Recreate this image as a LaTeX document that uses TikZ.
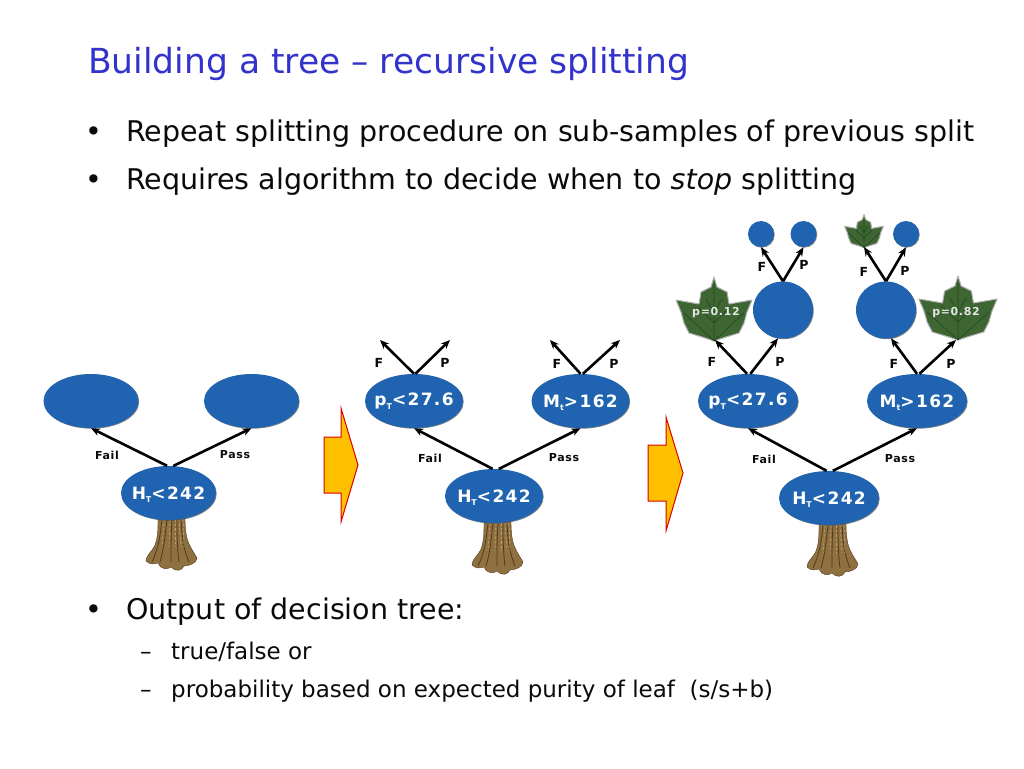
\documentclass[tikz,border=0pt]{standalone}
\usepackage{fontspec}
\usetikzlibrary{arrows.meta,shapes.geometric,shadows}
\setmainfont{DejaVu Sans}
\newfontfamily\lblfont[LetterSpace=8]{DejaVu Sans Bold}
\newfontfamily\smlfont[LetterSpace=6]{DejaVu Sans Bold}
\definecolor{titleblue}{HTML}{3333CC}
\definecolor{nodeblue}{HTML}{2063B0}
\definecolor{bodytext}{HTML}{0A0A0A}
\definecolor{leafgreen}{HTML}{3E6633}
\definecolor{leafdark}{HTML}{27491F}
\definecolor{barkmid}{HTML}{8F7040}
\definecolor{barkdark}{HTML}{54391C}
\definecolor{barklight}{HTML}{BBA274}
\definecolor{arrowyellow}{HTML}{FFC000}
\newcommand{\lowsub}[1]{{\raisebox{-3.5pt}[0pt][0pt]{\fontsize{8}{8}\selectfont #1}}}
\newcommand{\nar}[1]{\makebox[0pt][c]{#1}}
\newcommand{\trunkshape}[2]{%
  \begin{scope}[shift={(#1,#2)}]
    \fill[barkmid,draw=barkdark,line width=.4pt] (-14,0) .. controls (-14,12) and (-14,20) .. (-17,28)
      .. controls (-20,35) and (-26,38) .. (-26,44) .. controls (-22,48) and (-18,47) .. (-14,46)
      .. controls (-10,54) and (-4,52) .. (-1,50) .. controls (3,55) and (10,54) .. (12,49)
      .. controls (17,49) and (25,46) .. (25,41)
      .. controls (21,34) and (15,26) .. (14,16) .. controls (13,10) and (13,4) .. (13,0) -- cycle;
    \foreach \a/\b/\c in {-10/-12/-20,-5/-7/-12,0/-1/-1,5/5/7,9/10/17}{
      \draw[barkdark,line width=.8pt] (\a,3) .. controls (\b,16) and (\b,28) .. (\c,45);
    }
    \foreach \a/\b in {-8/-10,-2/-3,3/3,7/9,11/12}{
      \draw[barklight,line width=.7pt,dash pattern=on 2.5pt off 2pt] (\a,2) -- (\b,30);
    }
  \end{scope}}
\newcommand{\leafshape}[4]{%
  \begin{scope}[shift={(#1,#2)},xscale=#3,yscale=#4]
    \fill[leafgreen,draw=black!30,line width=1pt,line join=round] (0,-32) -- (3,-22) -- (13,-17) -- (15,-5)
      -- (38,-9) -- (33,3) -- (30,14) -- (25,24) -- (12,28) -- (0,32)
      -- (-12,28) -- (-25,24) -- (-30,14) -- (-33,3) -- (-38,-9)
      -- (-15,-5) -- (-13,-17) -- (-3,-22) -- cycle;
    \draw[leafdark,line width=.7pt] (0,-26) -- (0,32) (0,32) -- (-30,4) (0,32) -- (30,4)
      (0,14) -- (-16,-2) (0,14) -- (16,-2) (0,4) -- (-8,-10) (0,4) -- (8,-10);
  \end{scope}}
\tikzset{
  every node/.style={text=bodytext},
  blob/.style={ellipse,fill=nodeblue,inner sep=0pt,minimum width=98pt,minimum height=54pt,
    drop shadow={shadow xshift=.7pt,shadow yshift=-.7pt,fill=black!70,opacity=.7},
    text=white,font=\lblfont\fontsize{17}{17}\selectfont},
  smallblob/.style={blob,minimum width=95pt},
  ball/.style={blob,minimum width=60pt,minimum height=57pt},
  bud/.style={blob,minimum width=26pt,minimum height=26pt},
  bigblob/.style={blob,minimum width=100pt},
  leafnode/.style={inner sep=0pt,text=white!90!black,font=\smlfont\fontsize{11}{11}\selectfont},
  branch/.style={-{Stealth[length=9pt,width=7.5pt]},line width=2.6pt,black},
  lbl/.style={inner sep=0pt,font=\smlfont\fontsize{11}{11}\selectfont},
  fp/.style={inner sep=0pt,font=\smlfont\fontsize{12.5}{12.5}\selectfont},
  nextarrow/.style={fill=arrowyellow,draw=red!85!black,line width=1pt,line join=miter},
  bodyline/.style={anchor=base west,inner sep=0pt,font=\fontsize{28.5}{30}\selectfont},
  subline/.style={anchor=base west,inner sep=0pt,font=\fontsize{23}{26}\selectfont},
}
\begin{document}
\begin{tikzpicture}[x=1pt,y=-1pt]
\useasboundingbox[fill=white] (0,0) rectangle (1024,768);
% text
\node[anchor=base west,inner sep=0pt,text=titleblue,font=\fontsize{34.5}{38}\selectfont] (title) at (88,73) {Building a tree – recursive splitting};
\node[bodyline] (b1) at (85,141) {•};
\node[bodyline] (t1) at (126,141) {Repeat splitting procedure on sub-samples of previous split};
\node[bodyline] (b2) at (85,189) {•};
\node[bodyline] (t2) at (126,189) {Requires algorithm to decide when to \textit{stop} splitting};
\node[bodyline] (b3) at (85,619) {•};
\node[bodyline] (t3) at (126,619) {Output of decision tree:};
\node[subline] (d4) at (140,659) {–};
\node[subline] (t4) at (171,659) {true/false or};
\node[subline] (d5) at (140,697) {–};
\node[subline] (t5) at (171,697) {probability based on expected purity of leaf\ \ (s/s+b)};

% trunks
\trunkshape{172}{517}
\trunkshape{498}{521}
\trunkshape{833}{523}

% tree 1
\node[smallblob] (ar) at (168.5,493) {\nar{H\lowsub{T}<242}};
\node[smallblob] (af) at (91,401) {};
\node[smallblob] (ap) at (251.5,401) {};
\draw[branch] (ar.93) -- (af.south);
\draw[branch] (ar.80) -- (ap.south);
\node[lbl] (afl) at (107,455) {Fail};
\node[lbl] (apl) at (235,455) {Pass};

% arrows between trees
\draw[nextarrow] (324,437) -- (341,437) -- (341,408) -- (358,465) -- (341,522) -- (341,493) -- (324,493) -- cycle;
\draw[nextarrow] (648,445) -- (666,445) -- (666,417) -- (683,473) -- (666,531) -- (666,501) -- (648,501) -- cycle;

% tree 2
\node[blob] (br) at (494,496) {\nar{H\lowsub{T}<242}};
\node[blob] (bf) at (414,401) {\nar{p\lowsub{T}<27.6}};
\node[blob] (bp) at (580.5,401) {\nar{M\lowsub{t}>162}};
\draw[branch] (br.93) -- (bf.south);
\draw[branch] (br.80) -- (bp.south);
\node[lbl] (bfl) at (430,458) {Fail};
\node[lbl] (bpl) at (564,458) {Pass};
\coordinate (bfa) at (380,340);
\coordinate (bfb) at (450,340);
\coordinate (bpa) at (550,340);
\coordinate (bpb) at (620,340);
\draw[branch] (bf.north) -- (bfa);
\draw[branch] (bf.87) -- (bfb);
\draw[branch] (bp.north) -- (bpa);
\draw[branch] (bp.85) -- (bpb);
\node[fp] (bf1) at (379,363) {F};
\node[fp] (bf2) at (445,363) {P};
\node[fp] (bf3) at (557,364) {F};
\node[fp] (bf4) at (614,364) {P};

% tree 3
\node[bigblob] (cr) at (829,498) {\nar{H\lowsub{T}<242}};
\node[bigblob] (cf) at (748,401) {\nar{p\lowsub{T}<27.6}};
\node[bigblob] (cp) at (917,401) {\nar{M\lowsub{t}>162}};
\draw[branch] (cr.95) -- (cf.south);
\draw[branch] (cr.82) -- (cp.south);
\node[lbl] (cfl) at (764,459) {Fail};
\node[lbl] (cpl) at (900,459) {Pass};

\leafshape{714}{309}{1}{1}
\leafshape{958}{308}{1.03}{1}
\leafshape{864}{231}{.51}{.52}
\node[leafnode] (la) at (716,313) {p=0.12};
\node[leafnode] (lb) at (956,313) {p=0.82};
\coordinate (lc) at (864,247);
\coordinate (ld) at (715,340);
\coordinate (le) at (956,340);
\node[ball] (cb1) at (783,310) {};
\node[ball] (cb2) at (886,310) {};
\node[bud] (s1) at (761,234) {};
\node[bud] (s2) at (803.5,234) {};
\node[bud] (s3) at (906,234) {};
\draw[branch] (cf.92) -- (ld);
\draw[branch] (cf.85) -- (cb1.-100);
\draw[branch] (cp.north) -- (cb2.-80);
\draw[branch] (cp.85) -- (le);
\draw[branch] (cb1.north) -- (s1.south);
\draw[branch] (cb1.north) -- (s2.south);
\draw[branch] (cb2.north) -- (lc);
\draw[branch] (cb2.north) -- (s3.south);
\node[fp] (cf1) at (712,362) {F};
\node[fp] (cf2) at (780,362) {P};
\node[fp] (cf3) at (894,364) {F};
\node[fp] (cf4) at (951,364) {P};
\node[fp] (cf5) at (762,267) {F};
\node[fp] (cf6) at (804,265) {P};
\node[fp] (cf7) at (864,272) {F};
\node[fp] (cf8) at (905,271) {P};
\end{tikzpicture}
\end{document}
